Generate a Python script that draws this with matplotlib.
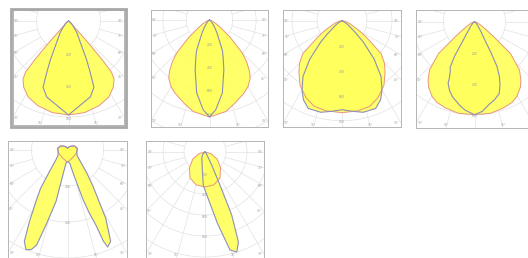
import numpy as np
import matplotlib.pyplot as plt
from matplotlib.patches import Rectangle

# --- light distribution curves, gamma in degrees from nadir ---
# each curve: (angles, intensities) for the right half, optional left half
P1_RED_A = [0, 10, 20, 28, 34, 38, 40, 41, 42, 43, 46, 55, 90]
P1_RED_I = [94, 93, 90, 86, 80, 74, 67, 52, 32, 14, 4, 1, 0]
P1_BLUE_A = [0, 8, 16, 21, 23, 25, 30, 35, 40, 50, 60, 90]
P1_BLUE_I = [94, 85, 79, 71, 55, 43, 22, 15, 9, 4, 1, 0]

P2_RED_A = [0, 10, 17, 25, 30, 35, 38, 42, 45, 50, 55, 60, 70, 90]
P2_RED_I = [97, 93, 87, 81, 77, 71, 65, 55, 46, 27, 14, 8, 3, 0]
P2_BLUE_A = [0, 4, 10, 16, 20, 23, 30, 35, 40, 50, 60, 90]
P2_BLUE_I = [97, 90, 74, 52, 40, 33, 15, 9, 5, 2, 1, 0]

P3_RED_A = [0, 10, 18, 25, 33, 40, 45, 50, 56, 60, 70, 80, 90]
P3_RED_I = [92, 91.5, 90, 85, 77, 67, 60, 51, 29, 20, 8, 3, 0]
P3_BLUE_A = [0, 6, 13, 21, 26, 30, 35, 40, 45, 48, 55, 60, 90]
P3_BLUE_I = [89, 91, 94, 94, 88, 80, 68, 50, 30, 19, 8, 4, 0]

P4_RED_A = [0, 10, 18.5, 25, 29.5, 35, 38.5, 43, 48.5, 52, 55, 60, 70, 90]
P4_RED_I = [93, 93, 91, 89, 86, 80, 74.5, 66, 48, 24, 15, 8, 3, 0]
P4_BLUE_RA = [0, 5, 10, 14, 19, 22, 24.5, 26.7, 28, 29, 33, 40, 50, 90]
P4_BLUE_RI = [93, 90, 84, 81, 76, 68, 60, 50, 35, 24, 12, 5, 2, 0]
P4_BLUE_LA = [0, 6, 10, 16.6, 20, 23.2, 24, 26, 28, 30, 31, 34, 40, 50, 90]
P4_BLUE_LI = [93, 89, 85, 78, 73, 67, 62, 55, 52, 40, 25, 12, 6, 2, 0]

P5_RED_A = [0, 20, 40, 60, 80, 100, 120, 140, 160, 180]
P5_RED_I = [12, 10, 9, 9, 9.5, 10, 8, 5, 3, 2]
P5_BLUE_RA = [0, 5, 10, 14, 17.3, 19, 20.7, 21.5, 22.5, 25.3, 29.3, 35.5, 40,
              50, 60, 80, 100, 120, 140, 160, 180]
P5_BLUE_RI = [12, 12, 14, 25, 51, 66, 80, 98, 105, 101, 78, 43, 30,
              16, 11, 9.5, 10, 8, 5, 3, 2]
P5_BLUE_LA = [0, 5, 8, 12.6, 16, 18, 20, 22.6, 25.3, 28, 31.4, 35, 40,
              50, 60, 80, 100, 120, 140, 160, 180]
P5_BLUE_LI = [12, 12, 16, 53, 78, 100, 106, 108, 101, 81, 61, 47, 28,
              15, 11, 9.5, 10, 8, 5, 3, 2]

P6_RED_A = [0, 15, 30, 45, 60, 75, 90]
P6_RED_I = [35, 34, 30, 22, 14, 6, 0]
P6_BLUE_RA = [0, 5, 10, 14.3, 17.6, 20.4, 23, 24.4, 27, 30, 40, 60, 90]
P6_BLUE_RI = [38, 50, 73, 101, 105, 96, 68, 36, 15, 6, 2, 1, 0]
P6_BLUE_LA = [0, 3, 10, 20, 27.6, 45, 60, 90]
P6_BLUE_LI = [38, 33, 16, 9, 7, 3, 1, 0]

RING_STEP = [32, 23.3, 25, 31, 36, 21]
RING_LABELS = ["200", "400", "600", "800"]

# panel boxes in pixels (left, top, right, bottom) and origin offset from top
BOXES = [(12.7, 10, 124.3, 125), (151, 10, 268, 127), (283, 10, 401, 127),
         (416, 10, 533, 128), (8, 141, 127, 258), (146, 141, 264, 258)]
ORIGIN_DY = [11, 10, 10.7, 11.7, 9, 11]

FILL = "#ffff5c"
RED = "#e8957e"
BLUE = "#8e8eb8"
GRID = "#e2e2e2"

W, H = 528, 258


def curve_xy(ang_r, val_r, ang_l=None, val_l=None):
    if ang_l is None:
        ang_l, val_l = ang_r, val_r
    g = np.r_[-np.array(ang_l, float)[::-1], np.array(ang_r, float)]
    r = np.r_[np.array(val_l, float)[::-1], np.array(val_r, float)]
    return r * np.sin(np.radians(g)), -r * np.cos(np.radians(g))


def draw_grid(ax, x0, w, h, oy, step):
    xmin, xmax, ymin, ymax = -w / 2, w / 2, -(h - oy), oy
    rmax = np.hypot(max(abs(xmin), xmax), abs(ymin)) + step
    th = np.linspace(0, 2 * np.pi, 300)
    r = step
    while r < rmax:
        ax.plot(r * np.cos(th), r * np.sin(th), color=GRID, lw=0.5, zorder=1)
        r += step
    for deg in range(0, 360, 15):
        a = np.radians(deg)
        dx, dy = np.sin(a), -np.cos(a)
        ax.plot([step * dx, rmax * dx], [step * dy, rmax * dy], color=GRID, lw=0.5, zorder=1)
        # angle label where the ray leaves the box
        ts = []
        if dx > 1e-6:
            ts.append(xmax / dx)
        if dx < -1e-6:
            ts.append(xmin / dx)
        if dy < -1e-6:
            ts.append(ymin / dy)
        if dy > 1e-6:
            ts.append(ymax / dy)
        t = min(ts)
        lx, ly = t * dx, t * dy
        if ly > ymax - 4 or deg == 0 or deg == 180:
            continue
        lx = np.clip(lx, xmin + 4, xmax - 4)
        ly = np.clip(ly, ymin + 2.5, ymax - 2)
        # skip labels that would sit past the right edge of the figure
        if x0 + w / 2 + lx > W - 4:
            continue
        lbl = min(deg, 360 - deg)
        ax.text(lx, ly, f"{lbl}°", fontsize=2.2, color="#9a9a9a", ha="center", va="center", zorder=6)
    for k, lab in enumerate(RING_LABELS, start=1):
        if k * step < h - oy - 3:
            ax.text(0, -k * step - 1.5, lab, fontsize=2.2, color="#9a9a9a", ha="center", va="center", zorder=6)


PANELS = [
    [(P1_RED_A, P1_RED_I), (P1_BLUE_A, P1_BLUE_I)],
    [(P2_RED_A, P2_RED_I), (P2_BLUE_A, P2_BLUE_I)],
    [(P3_RED_A, P3_RED_I), (P3_BLUE_A, P3_BLUE_I)],
    [(P4_RED_A, P4_RED_I), (P4_BLUE_RA, P4_BLUE_RI, P4_BLUE_LA, P4_BLUE_LI)],
    [(P5_RED_A, P5_RED_I), (P5_BLUE_RA, P5_BLUE_RI, P5_BLUE_LA, P5_BLUE_LI)],
    [(P6_RED_A, P6_RED_I), (P6_BLUE_RA, P6_BLUE_RI, P6_BLUE_LA, P6_BLUE_LI)],
]

fig = plt.figure(figsize=(W / 100, H / 100), dpi=100)
fig.patch.set_facecolor("white")

for i, (box, oy, step, curves) in enumerate(zip(BOXES, ORIGIN_DY, RING_STEP, PANELS)):
    x0, y0, x1, y1 = box
    w, h = x1 - x0, y1 - y0
    ax = fig.add_axes([x0 / W, 1 - y1 / H, w / W, h / H])
    ax.set_xlim(-w / 2, w / 2)
    ax.set_ylim(-(h - oy), oy)
    ax.set_aspect("auto")
    ax.set_xticks([])
    ax.set_yticks([])
    ax.set_facecolor("white")
    for sp in ax.spines.values():
        sp.set_color("#b5b5b5")
        sp.set_linewidth(0.7)
    draw_grid(ax, x0, w, h, oy, step)

    red_xy = curve_xy(*curves[0])
    blue_xy = curve_xy(*curves[1])
    ax.fill(*red_xy, color=FILL, lw=0, alpha=0.92, zorder=2)
    ax.fill(*blue_xy, color=FILL, lw=0, alpha=0.92, zorder=2)
    ax.plot(*red_xy, color=RED, lw=0.7, zorder=4)
    ax.plot(*blue_xy, color=BLUE, lw=0.8, zorder=5)

# selection frame around the first panel
fig.patches.append(Rectangle((11.3 / W, 1 - 126.6 / H), 114.6 / W, 117.9 / H,
                             transform=fig.transFigure, fill=False,
                             edgecolor="#a8a8a8", lw=2.0, zorder=10))

fig.savefig("out.png", dpi=100, facecolor="white")
